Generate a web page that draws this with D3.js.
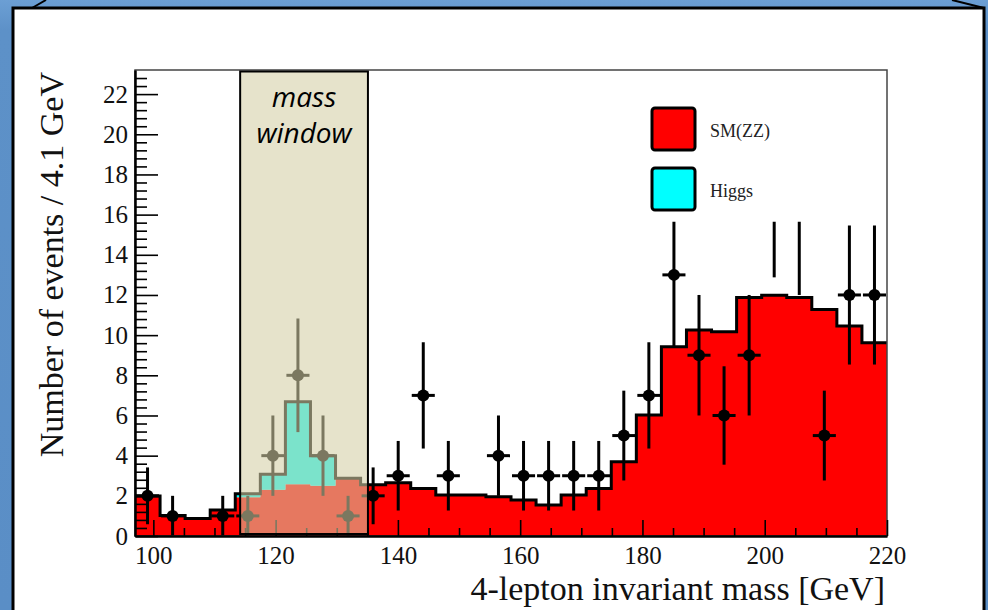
<!DOCTYPE html>
<html>
<head>
<meta charset="utf-8">
<script src="https://cdn.jsdelivr.net/npm/d3@7"></script>
<style>
body { margin: 0; background: #fff; }
svg { display: block; }
</style>
</head>
<body>
<script>
var w = 988,
    h = 610;

// histogram binning: 30 bins of 4.1 GeV
var massMin = 97,
    massMax = 220,
    binWidth = 4.1,
    yMax = 23.2;

// stacked expectation per bin
var smZZ = [1.99, 1.02, 0.87, 1.3, 1.93, 2.3, 2.58, 2.5, 2.87, 2.55,
            2.65, 2.37, 2.04, 2.04, 1.96, 1.79, 1.54, 2.04, 2.37, 3.7,
            6.02, 9.42, 10.25, 10.17, 11.87, 11.99, 11.87, 11.28, 10.45, 9.62];
var higgs = [0, 0, 0, 0, 0.17, 0.77, 4.1, 1.5, 0, 0,
             0, 0, 0, 0, 0, 0, 0, 0, 0, 0,
             0, 0, 0, 0, 0, 0, 0, 0, 0, 0];
// observed events per bin
var observed = [2, 1, 0, 1, 1, 4, 8, 4, 1, 2,
                3, 7, 3, 0, 4, 3, 3, 3, 3, 5,
                7, 13, 9, 6, 9, 17, 16, 5, 12, 12];

var xTicks = [100, 120, 140, 160, 180, 200, 220];
var yTicks = [0, 2, 4, 6, 8, 10, 12, 14, 16, 18, 20, 22];
var legendLabels = ["SM(ZZ)", "Higgs"];
var legendColors = ["#ff0000", "#00ffff"];
var windowRange = [114.2, 135.1];
var windowLabel = ["mass", "window"];
// upper part of the plot is hidden on the slide above this level
var coverLevel = 15.65;

var margin = {left: 135, right: 101, top: 70, bottom: 74};
var x = d3.scaleLinear().domain([massMin, massMax]).range([margin.left, w - margin.right]);
var y = d3.scaleLinear().domain([0, yMax]).range([h - margin.bottom, margin.top]);

var svg = d3.select("body")
    .append("svg")
    .attr("width", w)
    .attr("height", h);

var defs = svg.append("defs");
var grad = defs.append("linearGradient")
    .attr("id", "slideBlue")
    .attr("x1", 0).attr("y1", 0).attr("x2", 0).attr("y2", 1);
grad.append("stop").attr("offset", "0").attr("stop-color", "#6c9fd4");
grad.append("stop").attr("offset", "0.05").attr("stop-color", "#5d91c8");
grad.append("stop").attr("offset", "1").attr("stop-color", "#5a8ec6");

defs.append("clipPath").attr("id", "plotClip")
    .append("rect")
    .attr("x", x(massMin)).attr("y", y(yMax))
    .attr("width", x(massMax) - x(massMin))
    .attr("height", y(0) - y(yMax));

defs.append("clipPath").attr("id", "coverClip")
    .append("rect")
    .attr("x", x(massMin)).attr("y", y(coverLevel))
    .attr("width", x(massMax) - x(massMin))
    .attr("height", y(0) - y(coverLevel) + 4);

// slide background and panel
svg.append("rect")
    .attr("width", w).attr("height", h)
    .attr("fill", "url(#slideBlue)");
svg.append("rect")
    .attr("x", 13).attr("y", 8)
    .attr("width", 971).attr("height", 640)
    .attr("fill", "#fff")
    .attr("stroke", "#000")
    .attr("stroke-width", 3);
svg.append("line")
    .attr("x1", 32).attr("y1", 8).attr("x2", 46).attr("y2", 0)
    .attr("stroke", "#000").attr("stroke-width", 2);
svg.append("line")
    .attr("x1", 952).attr("y1", 0).attr("x2", 984).attr("y2", 8)
    .attr("stroke", "#000").attr("stroke-width", 2);

// histogram
var edges = d3.range(smZZ.length + 1).map(function(i) {
    return massMin + i * binWidth;
});
var steps = smZZ.map(function(v, i) {
    return {m: edges[i], sm: v, tot: v + higgs[i]};
});
steps.push({m: edges[edges.length - 1], sm: steps[steps.length - 1].sm, tot: steps[steps.length - 1].tot});

var plot = svg.append("g").attr("clip-path", "url(#plotClip)");

plot.append("path")
    .datum(steps)
    .attr("fill", legendColors[0])
    .attr("d", d3.area()
        .curve(d3.curveStepAfter)
        .x(function(d) { return x(d.m); })
        .y0(y(0))
        .y1(function(d) { return y(d.sm); }));

plot.append("path")
    .datum(steps)
    .attr("fill", legendColors[1])
    .attr("d", d3.area()
        .curve(d3.curveStepAfter)
        .x(function(d) { return x(d.m); })
        .y0(function(d) { return y(d.sm); })
        .y1(function(d) { return y(d.tot); }));

plot.append("path")
    .datum(steps)
    .attr("fill", "none")
    .attr("stroke", "#000")
    .attr("stroke-width", 3)
    .attr("d", d3.line()
        .curve(d3.curveStepAfter)
        .x(function(d) { return x(d.m); })
        .y(function(d) { return y(d.tot); }));

// data points with Poisson error bars
var points = observed.map(function(n, i) {
    return {n: n, lo: edges[i], hi: edges[i + 1], c: edges[i] + binWidth / 2};
}).filter(function(d) { return d.n > 0; });

var dataG = svg.append("g").attr("clip-path", "url(#coverClip)");

dataG.selectAll(".ev")
    .data(points)
    .enter()
    .append("line")
    .attr("x1", function(d) { return x(d.c); })
    .attr("x2", function(d) { return x(d.c); })
    .attr("y1", function(d) { return y(Math.max(0, d.n - Math.sqrt(d.n))); })
    .attr("y2", function(d) { return y(d.n + Math.sqrt(d.n)); })
    .attr("stroke", "#000")
    .attr("stroke-width", 3);

dataG.selectAll(".eh")
    .data(points)
    .enter()
    .append("line")
    .attr("x1", function(d) { return x(d.lo) + 1; })
    .attr("x2", function(d) { return x(d.hi) - 1; })
    .attr("y1", function(d) { return y(d.n); })
    .attr("y2", function(d) { return y(d.n); })
    .attr("stroke", "#000")
    .attr("stroke-width", 3);

dataG.selectAll("circle")
    .data(points)
    .enter()
    .append("circle")
    .attr("cx", function(d) { return x(d.c); })
    .attr("cy", function(d) { return y(d.n); })
    .attr("r", 6)
    .attr("fill", "#000");

// frame
svg.append("rect")
    .attr("x", x(massMin)).attr("y", y(yMax))
    .attr("width", x(massMax) - x(massMin))
    .attr("height", y(0) - y(yMax))
    .attr("fill", "none")
    .attr("stroke", "#444")
    .attr("stroke-width", 1.5);

// axes
var xMinor = d3.range(100, 221, 5).filter(function(v) { return v % 20 !== 0; });
var yMinor = d3.range(0, yMax, 0.4).filter(function(v) {
    return Math.abs(v / 2 - Math.round(v / 2)) > 0.01;
});

var xAxisG = svg.append("g")
    .attr("transform", "translate(0," + y(0) + ")")
    .call(d3.axisBottom(x).tickValues(xTicks).tickSizeInner(-16).tickSizeOuter(0).tickPadding(10));
svg.append("g")
    .attr("transform", "translate(0," + y(0) + ")")
    .call(d3.axisBottom(x).tickValues(xMinor).tickSizeInner(-8).tickSizeOuter(0).tickFormat(""))
    .select(".domain").remove();

var yAxisG = svg.append("g")
    .attr("transform", "translate(" + x(massMin) + ",0)")
    .call(d3.axisLeft(y).tickValues(yTicks).tickSizeInner(-23).tickSizeOuter(0).tickPadding(7));
svg.append("g")
    .attr("transform", "translate(" + x(massMin) + ",0)")
    .call(d3.axisLeft(y).tickValues(yMinor).tickSizeInner(-12).tickSizeOuter(0).tickFormat(""))
    .select(".domain").remove();

svg.selectAll(".tick line").attr("stroke", "#000").attr("stroke-width", 1.6);
xAxisG.select(".domain").attr("stroke", "#000").attr("stroke-width", 2.5);
yAxisG.select(".domain").attr("stroke", "#000").attr("stroke-width", 2.5);
svg.selectAll(".tick text")
    .attr("font-family", "Liberation Serif, Times New Roman, serif")
    .attr("font-size", 25)
    .attr("fill", "#111");

// axis titles
svg.append("text")
    .attr("x", x(massMax) - 2)
    .attr("y", 600)
    .attr("text-anchor", "end")
    .attr("font-family", "Liberation Serif, Times New Roman, serif")
    .attr("font-size", 34)
    .attr("fill", "#111")
    .text("4-lepton invariant mass [GeV]");

svg.append("text")
    .attr("transform", "translate(63," + (y(yMax) + 2) + ") rotate(-90)")
    .attr("text-anchor", "end")
    .attr("font-family", "Liberation Serif, Times New Roman, serif")
    .attr("font-size", 34)
    .attr("fill", "#111")
    .text("Number of events / 4.1 GeV");

// legend
var legend = svg.append("g");
legend.selectAll("rect")
    .data(legendLabels)
    .enter()
    .append("rect")
    .attr("x", 652)
    .attr("y", function(d, i) { return 108 + i * 60; })
    .attr("width", 43)
    .attr("height", 42)
    .attr("rx", 3)
    .attr("fill", function(d, i) { return legendColors[i]; })
    .attr("stroke", "#000")
    .attr("stroke-width", 3);
legend.selectAll("text")
    .data(legendLabels)
    .enter()
    .append("text")
    .attr("x", 710)
    .attr("y", function(d, i) { return 137 + i * 60; })
    .attr("font-family", "Liberation Serif, Times New Roman, serif")
    .attr("font-size", 18)
    .attr("fill", "#222")
    .text(function(d) { return d; });

// mass window overlay
svg.append("rect")
    .attr("x", x(windowRange[0]))
    .attr("y", y(yMax) + 1.5)
    .attr("width", x(windowRange[1]) - x(windowRange[0]))
    .attr("height", y(0) - y(yMax) - 3.5)
    .attr("fill", "rgb(212,207,166)")
    .attr("fill-opacity", 0.58)
    .attr("stroke", "#000")
    .attr("stroke-width", 2);

svg.selectAll(".wlab")
    .data(windowLabel)
    .enter()
    .append("text")
    .attr("x", (x(windowRange[0]) + x(windowRange[1])) / 2)
    .attr("y", function(d, i) { return 107 + i * 36; })
    .attr("text-anchor", "middle")
    .attr("font-family", "Open Sans, sans-serif")
    .attr("font-style", "italic")
    .attr("font-size", 28)
    .attr("fill", "#000")
    .text(function(d) { return d; });
</script>
</body>
</html>
